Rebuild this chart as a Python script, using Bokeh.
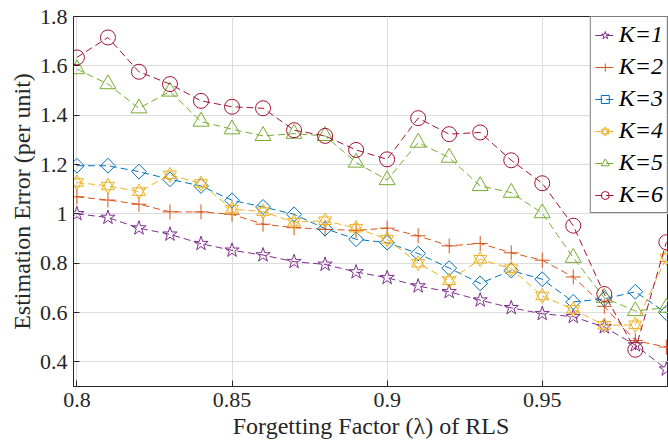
from bokeh.plotting import figure
from bokeh.models import Range1d, FixedTicker, Legend, LegendItem
from bokeh.embed import file_html
from bokeh.resources import INLINE

# ---- data ----
lam = [0.80, 0.81, 0.82, 0.83, 0.84, 0.85, 0.86, 0.87, 0.88, 0.89,
       0.90, 0.91, 0.92, 0.93, 0.94, 0.95, 0.96, 0.97, 0.98, 0.99]

err_k1 = [1.000, 0.985, 0.942, 0.917, 0.879, 0.852, 0.833, 0.806, 0.795, 0.764,
          0.741, 0.707, 0.684, 0.650, 0.619, 0.595, 0.583, 0.541, 0.468, 0.370]
err_k2 = [1.069, 1.056, 1.039, 1.008, 1.008, 0.998, 0.958, 0.944, 0.937, 0.933,
          0.942, 0.911, 0.870, 0.880, 0.842, 0.812, 0.744, 0.625, 0.486, 0.460]
err_k3 = [1.195, 1.195, 1.171, 1.140, 1.113, 1.055, 1.028, 0.998, 0.940, 0.897,
          0.883, 0.839, 0.780, 0.718, 0.770, 0.735, 0.643, 0.655, 0.684, 0.598]
err_k4 = [1.127, 1.113, 1.090, 1.158, 1.123, 1.019, 1.009, 0.966, 0.972, 0.942,
          0.897, 0.800, 0.729, 0.816, 0.778, 0.667, 0.613, 0.548, 0.550, 0.822]
err_k5 = [1.587, 1.526, 1.428, 1.496, 1.374, 1.343, 1.316, 1.325, 1.316, 1.208,
          1.137, 1.289, 1.228, 1.113, 1.086, 1.003, 0.822, 0.660, 0.606, 0.620]
err_k6 = [1.634, 1.715, 1.576, 1.526, 1.458, 1.434, 1.428, 1.339, 1.316, 1.259,
          1.221, 1.388, 1.323, 1.330, 1.217, 1.124, 0.952, 0.675, 0.449, 0.885]

series_labels = ["K=1", "K=2", "K=3", "K=4", "K=5", "K=6"]
series_values = [err_k1, err_k2, err_k3, err_k4, err_k5, err_k6]

x_ticks = [0.8, 0.85, 0.9, 0.95]
x_tick_labels = ["0.8", "0.85", "0.9", "0.95"]
y_ticks = [0.4, 0.6, 0.8, 1.0, 1.2, 1.4, 1.6, 1.8]
y_tick_labels = ["0.4", "0.6", "0.8", "1", "1.2", "1.4", "1.6", "1.8"]

x_label = "Forgetting Factor (λ) of RLS"
y_label = "Estimation Error (per unit)"

# ---- style ----
colors = ["#7E2F8E", "#D95319", "#0072BD", "#EDB120", "#77AC30", "#A2142F"]
FONT = "Liberation Serif"
TXT = "#262626"
DASH = "7 4"

p = figure(width=668, height=443, output_backend="svg", toolbar_location=None,
           x_range=Range1d(0.7989, 0.9907), y_range=Range1d(0.3, 1.8),
           min_border_left=73, min_border_right=0, min_border_top=16,
           min_border_bottom=57, background_fill_color="white",
           border_fill_color="white")

p.outline_line_color = TXT
p.outline_line_width = 1

for ax, ticks, labels in ((p.xaxis[0], x_ticks, x_tick_labels),
                          (p.yaxis[0], y_ticks, y_tick_labels)):
    ax.ticker = FixedTicker(ticks=ticks)
    ax.major_label_overrides = dict(zip(ticks, labels))
    ax.major_tick_in = 6
    ax.major_tick_out = 0
    ax.minor_tick_line_color = None
    ax.axis_line_color = TXT
    ax.major_tick_line_color = TXT
    ax.major_label_text_font = FONT
    ax.major_label_text_font_size = "22px"
    ax.major_label_text_color = TXT
    ax.axis_label_text_font = FONT
    ax.axis_label_text_font_size = "24px"
    ax.axis_label_text_font_style = "normal"
    ax.axis_label_text_color = TXT

p.xaxis.axis_label = x_label
p.yaxis.axis_label = y_label
p.xaxis.major_label_standoff = 6
p.xaxis.axis_label_standoff = 3
p.yaxis.major_label_standoff = 6
p.yaxis.axis_label_standoff = 2

p.xgrid.ticker = FixedTicker(ticks=x_ticks)
p.ygrid.ticker = FixedTicker(ticks=y_ticks)
p.grid.grid_line_color = "#dcdcdc"
p.grid.grid_line_width = 1

items = []
for i, (lbl, vals) in enumerate(zip(series_labels, series_values)):
    c = colors[i]
    rl = p.line(lam, vals, line_color=c, line_width=1, line_dash=DASH)
    rs = []
    if i == 0:
        rs.append(p.scatter(lam, vals, marker="star", size=15, line_color=c,
                            fill_color=None, line_width=1))
    elif i == 1:
        rs.append(p.scatter(lam, vals, marker="cross", size=15, line_color=c,
                            line_width=1))
    elif i == 2:
        rs.append(p.scatter(lam, vals, marker="square", angle=0.785398, size=10.5,
                            line_color=c, fill_color=None, line_width=1))
    elif i == 3:
        rs.append(p.scatter(lam, vals, marker="triangle", size=13, line_color=c,
                            fill_color=None, line_width=1))
        rs.append(p.scatter(lam, vals, marker="inverted_triangle", size=13,
                            line_color=c, fill_color=None, line_width=1))
    elif i == 4:
        rs.append(p.scatter(lam, vals, marker="triangle", size=16, line_color=c,
                            fill_color=None, line_width=1))
    else:
        rs.append(p.scatter(lam, vals, marker="circle", size=15, line_color=c,
                            fill_color=None, line_width=1))
    items.append(LegendItem(label=lbl, renderers=[rl] + rs))

legend = Legend(items=items, location="top_right", margin=0, padding=4,
                spacing=5, glyph_width=20, glyph_height=24, label_height=24,
                label_standoff=4, label_text_font=FONT,
                label_text_font_style="italic", label_text_font_size="24px",
                label_text_color="black", border_line_color="black",
                border_line_width=1, background_fill_color="white",
                background_fill_alpha=1)
p.add_layout(legend)

open("out.html", "w").write(file_html(p, INLINE))
